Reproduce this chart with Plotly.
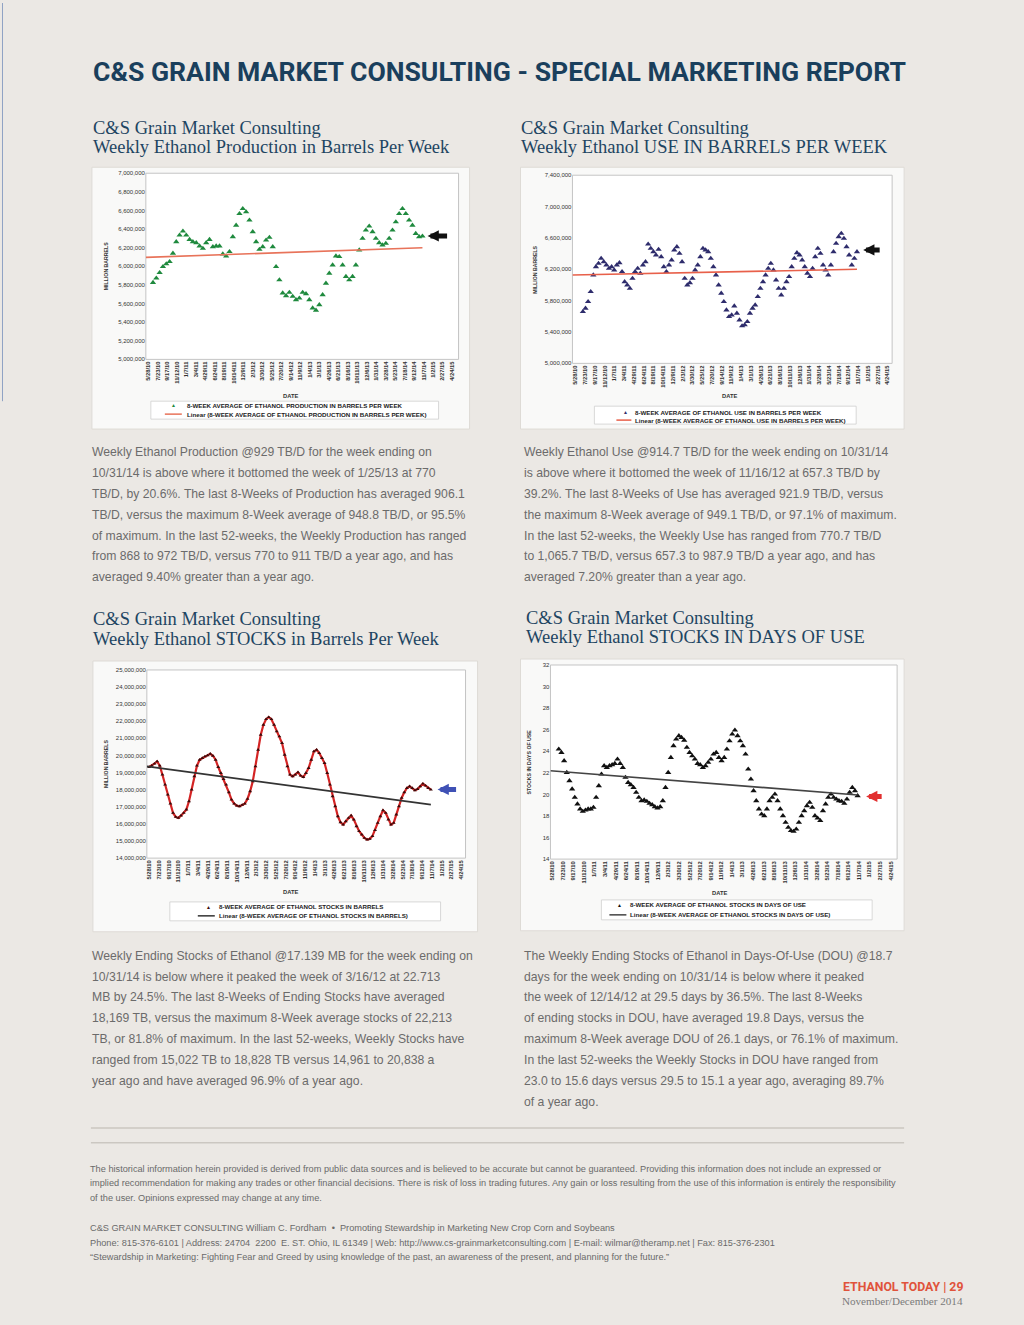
import plotly.graph_objects as go
import pandas as pd

W, H = 1024, 1325

# ---------------- data ----------------
TICK_LABELS = ["5/28/10", "7/23/10", "9/17/10", "11/12/10", "1/7/11", "3/4/11", "4/29/11", "6/24/11",
               "8/19/11", "10/14/11", "12/9/11", "2/3/12", "3/30/12", "5/25/12", "7/20/12", "9/14/12",
               "11/9/12", "1/4/13", "3/1/13", "4/26/13", "6/21/13", "8/16/13", "10/11/13", "12/6/13",
               "1/31/14", "3/28/14", "5/23/14", "7/18/14", "9/12/14", "11/7/14", "1/2/15", "2/27/15",
               "4/24/15"]

# Chart 1: 8-week average ethanol production (barrels per week), thousands
PROD = [5826, 5872, 5932, 5996, 6025, 6050, 6139, 6263, 6334, 6377, 6334, 6288, 6263, 6253, 6217, 6192,
        6253, 6288, 6210, 6217, 6217, 6132, 6110, 6157, 6317, 6441, 6566, 6619, 6584, 6495, 6370, 6263,
        6181, 6210, 6281, 6310, 6210, 5996, 5854, 5712, 5683, 5719, 5676, 5640, 5658, 5719, 5705, 5640,
        5551, 5527, 5587, 5694, 5818, 5925, 6014, 6110, 6103, 6014, 5890, 5854, 5890, 6014, 6174, 6299,
        6388, 6431, 6370, 6299, 6253, 6228, 6246, 6299, 6388, 6477, 6566, 6619, 6566, 6495, 6441, 6352,
        6317, 6324]
PROD_TREND = [6096, 6199]

# Chart 2: 8-week average ethanol use (barrels per week), thousands
USE = [5659, 5702, 5787, 5914, 6126, 6232, 6275, 6339, 6296, 6254, 6211, 6232, 6190, 6254, 6283, 6169,
       6041, 5999, 5956, 6084, 6169, 6211, 6148, 6254, 6296, 6521, 6466, 6423, 6381, 6453, 6360, 6232,
       6169, 6254, 6317, 6445, 6487, 6402, 6296, 6084, 5999, 6028, 6084, 6190, 6254, 6360, 6466, 6445,
       6423, 6339, 6232, 6126, 5999, 5893, 5787, 5680, 5596, 5617, 5731, 5638, 5553, 5477, 5490, 5532,
       5638, 5702, 5744, 5850, 5956, 6041, 6126, 6211, 6275, 6190, 6062, 5956, 5871, 5956, 6041, 6105,
       6232, 6339, 6411, 6381, 6317, 6232, 6148, 6105, 6211, 6360, 6466, 6402, 6254, 6190, 6126, 6254,
       6423, 6530, 6615, 6657, 6594, 6487, 6381, 6254, 6339, 6423]
USE_TREND = [6127, 6200]

# Chart 3: 8-week average ethanol stocks (barrels), thousands
STOCKS = [19324, 19402, 19518, 19654, 19402, 18876, 18293, 17710, 17185, 16641, 16408, 16349, 16485,
          16641, 16835, 17321, 18002, 18779, 19402, 19751, 19848, 19946, 20004, 20101, 19985, 19751,
          19324, 18974, 18624, 18293, 17846, 17418, 17185, 17068, 17030, 17107, 17185, 17457, 17904,
          18488, 19362, 20334, 21209, 21792, 22123, 22240, 22123, 21792, 21404, 21112, 20723, 20043,
          19362, 18876, 18779, 18876, 19013, 18818, 18740, 18974, 19265, 19751, 20237, 20334, 20140,
          19848, 19557, 18974, 18293, 17613, 17030, 16446, 16096, 15960, 16155, 16349, 16485, 16252,
          15863, 15571, 15377, 15182, 15085, 15124, 15280, 15630, 16057, 16446, 16796, 16641, 16252,
          15960, 16057, 16543, 17030, 17515, 17846, 18099, 18196, 18099, 17963, 18040, 18196, 18351,
          18235, 18099, 18002]
STOCKS_TREND = [19362, 17127]

# Chart 4: 8-week average ethanol stocks in days of use
DOU = [24.19, 23.88, 23.11, 22.03, 21.26, 20.49, 19.72, 19.10, 18.64, 18.42, 18.54, 18.64, 18.64, 18.79,
       19.72, 20.80, 21.88, 22.65, 22.49, 22.65, 22.74, 22.86, 23.27, 22.86, 22.49, 21.57, 21.10, 20.89,
       20.64, 20.18, 19.72, 19.41, 19.47, 19.35, 19.16, 19.04, 18.85, 18.73, 18.85, 19.41, 20.64, 22.03,
       23.42, 24.50, 25.12, 25.43, 25.27, 25.02, 24.35, 23.88, 23.57, 23.27, 22.86, 22.74, 22.49, 22.65,
       22.96, 23.27, 23.73, 23.88, 23.42, 23.11, 23.42, 24.19, 24.96, 25.58, 25.95, 25.43, 24.96, 24.50,
       23.73, 22.34, 21.41, 20.33, 19.41, 18.64, 18.17, 18.02, 18.64, 19.41, 19.72, 20.02, 19.41, 18.64,
       18.02, 17.40, 16.94, 16.63, 16.57, 16.78, 17.40, 18.02, 18.48, 18.94, 19.25, 18.79, 18.02, 17.80,
       17.56, 18.48, 19.10, 19.72, 20.02, 19.72, 19.56, 19.41, 19.35, 19.16, 19.56, 20.18, 20.64, 20.33,
       19.87]
DOU_TREND = [22.19, 19.95]

# ---------------- helpers ----------------
tickvals = pd.to_datetime(TICK_LABELS, format="%m/%d/%y")


def px_x(x):
    return x / W


def px_y(y):
    return 1 - y / H


def dom_x(x0, x1):
    return [x0 / W, x1 / W]


def dom_y(y0, y1):
    return [1 - y1 / H, 1 - y0 / H]


annotations = []
shapes = []

SANS = "Liberation Sans, Arial, sans-serif"
HEAVY = "Roboto, Liberation Sans, Arial, sans-serif"
SERIF = "Liberation Serif, Times New Roman, serif"


def txt(x, y, s, size, color, family=SANS, anchor="left", angle=0):
    annotations.append(dict(x=px_x(x), y=px_y(y), xref="paper", yref="paper", text=s, showarrow=False,
                            xanchor=anchor, yanchor="middle", textangle=angle,
                            font=dict(size=size, color=color, family=family)))


def rect(x0, y0, x1, y1, fill, line="rgba(0,0,0,0)", lw=1, layer="below"):
    shapes.append(dict(type="rect", xref="paper", yref="paper", x0=px_x(x0), x1=px_x(x1),
                       y0=px_y(y1), y1=px_y(y0), fillcolor=fill, line=dict(color=line, width=lw), layer=layer))


def hline(x0, x1, y, color, lw):
    shapes.append(dict(type="line", xref="paper", yref="paper", x0=px_x(x0), x1=px_x(x1),
                       y0=px_y(y), y1=px_y(y), line=dict(color=color, width=lw)))


def arrow(tip_x, tail_x, y, color):
    annotations.append(dict(x=px_x(tip_x), y=px_y(y), xref="paper", yref="paper", text="", showarrow=True,
                            ax=tail_x - tip_x, ay=0, arrowhead=2, arrowsize=0.45, arrowwidth=5,
                            arrowcolor=color))


fig = go.Figure()

# ---------------- charts ----------------
charts = [
    dict(vals=[v * 1000 for v in PROD], trend=[v * 1000 for v in PROD_TREND],
         start="2010-06-25", end="2014-10-31", xr=["2010-05-14", "2015-06-01"],
         box=(91, 165, 469, 428), plot=(145, 171, 458, 358), yr=[5000000, 7000000], dtick=200000,
         mcolor="#1f8a3e", msym="triangle-up", msize=5.5, mode="markers", lcolor=None,
         tcolor="#e8735a", ytitle="MILLION BARRELS", ytx=105,
         leg=(150, 400, 438, 418), leg_marker_x=173, leg_text_x=184, leg_line=(164, 181), leg_y=(404, 413),
         leg1="8-WEEK AVERAGE OF ETHANOL PRODUCTION IN BARRELS PER WEEK",
         leg2="Linear (8-WEEK AVERAGE OF ETHANOL PRODUCTION IN BARRELS PER WEEK)",
         date=(290, 395), arr=(427, 448, 234, "#111111")),
    dict(vals=[v * 1000 for v in USE], trend=[v * 1000 for v in USE_TREND],
         start="2010-07-09", end="2014-10-31", xr=["2010-05-10", "2015-05-21"],
         box=(520, 165, 904, 428), plot=(572, 173, 892, 362), yr=[5000000, 7400000], dtick=400000,
         mcolor="#2e2c6c", msym="triangle-up", msize=5.5, mode="markers", lcolor=None,
         tcolor="#e8604a", ytitle="MILLION BARRELS", ytx=535,
         leg=(594, 405, 856, 423), leg_marker_x=625, leg_text_x=633, leg_line=(616, 631), leg_y=(411, 419),
         leg1="8-WEEK AVERAGE OF ETHANOL USE IN BARRELS PER WEEK",
         leg2="Linear (8-WEEK AVERAGE OF ETHANOL USE IN BARRELS PER WEEK)",
         date=(729, 395), arr=(863, 881, 248, "#111111")),
    dict(vals=[v * 1000 for v in STOCKS], trend=[v * 1000 for v in STOCKS_TREND],
         start="2010-05-28", end="2014-10-31", xr=["2010-05-15", "2015-05-18"],
         box=(92, 661, 477, 933), plot=(146, 670, 465, 859), yr=[14000000, 25000000], dtick=1000000,
         mcolor="#3a0a0a", msym="triangle-up", msize=3.5, mode="lines+markers", lcolor="#d42424",
         tcolor="#333333", ytitle="MILLION BARRELS", ytx=105,
         leg=(169, 903, 440, 922), leg_marker_x=208, leg_text_x=216, leg_line=(197, 214), leg_y=(908, 917),
         leg1="8-WEEK AVERAGE OF ETHANOL STOCKS IN BARRELS",
         leg2="Linear (8-WEEK AVERAGE OF ETHANOL STOCKS IN BARRELS)",
         date=(290, 893), arr=(437, 457, 790, "#3f51b5")),
    dict(vals=DOU, trend=DOU_TREND,
         start="2010-07-02", end="2014-10-31", xr=["2010-05-19", "2015-05-28"],
         box=(520, 659, 904, 932), plot=(550, 665, 897, 860), yr=[14, 32], dtick=2,
         mcolor="#111111", msym="triangle-up", msize=5.5, mode="markers", lcolor=None,
         tcolor="#444444", ytitle="STOCKS IN DAYS OF USE", ytx=529,
         leg=(601, 901, 872, 921), leg_marker_x=619, leg_text_x=628, leg_line=(609, 626), leg_y=(906, 916),
         leg1="8-WEEK AVERAGE OF ETHANOL STOCKS IN DAYS OF USE",
         leg2="Linear (8-WEEK AVERAGE OF ETHANOL STOCKS IN DAYS OF USE)",
         date=(719, 894), arr=(866, 883, 797, "#e23030")),
]

layout_axes = {}
for i, c in enumerate(charts, start=1):
    xa = "x" if i == 1 else f"x{i}"
    ya = "y" if i == 1 else f"y{i}"
    dates = pd.date_range(c["start"], c["end"], periods=len(c["vals"]))
    bx0, by0, bx1, by1 = c["box"]
    rect(bx0, by0, bx1, by1, "#f9f9f8", "#dedbd6", 1)
    px0, py0, px1, py1 = c["plot"]
    rect(px0, py0, px1, py1, "#ffffff", "#c4c4c4", 1)

    fig.add_trace(go.Scatter(
        x=dates, y=c["vals"], mode=c["mode"], xaxis=xa, yaxis=ya, showlegend=False,
        marker=dict(symbol=c["msym"], size=c["msize"], color=c["mcolor"]),
        line=dict(color=c["lcolor"] or c["mcolor"], width=2.2)))
    fig.add_trace(go.Scatter(
        x=[pd.Timestamp(c["xr"][0]), pd.Timestamp(c["end"])], y=c["trend"], mode="lines",
        xaxis=xa, yaxis=ya, showlegend=False, line=dict(color=c["tcolor"], width=1.6)))

    axkey = "xaxis" if i == 1 else f"xaxis{i}"
    aykey = "yaxis" if i == 1 else f"yaxis{i}"
    layout_axes[axkey] = dict(domain=dom_x(px0, px1), anchor=ya, type="date",
                              range=[pd.Timestamp(c["xr"][0]), pd.Timestamp(c["xr"][1])],
                              tickvals=tickvals, ticktext=[f"<b>{t}</b>" for t in TICK_LABELS],
                              tickangle=-90, tickfont=dict(size=5.8, color="#333333", family=SANS),
                              showgrid=False, zeroline=False, showline=False, ticks="")
    layout_axes[aykey] = dict(domain=dom_y(py0, py1), anchor=xa, range=c["yr"], dtick=c["dtick"],
                              tick0=c["yr"][0], tickformat=",d",
                              tickfont=dict(size=6, color="#333333", family=SANS),
                              showgrid=False, zeroline=False, showline=False, ticks="")
    txt(c["ytx"], (py0 + py1) / 2, f"<b>{c['ytitle']}</b>", 5.2, "#333333", angle=-90, anchor="center")
    txt(c["date"][0], c["date"][1], "<b>DATE</b>", 5.8, "#333333", anchor="center")

    lx0, ly0, lx1, ly1 = c["leg"]
    rect(lx0, ly0, lx1, ly1, "#ffffff", "#cfcfcf", 0.8)
    txt(c["leg_marker_x"], c["leg_y"][0], "▲", 5, c["mcolor"], anchor="center")
    txt(c["leg_text_x"], c["leg_y"][0], f"<b>{c['leg1']}</b>", 6.2, "#222222")
    hline(c["leg_line"][0], c["leg_line"][1], c["leg_y"][1], c["tcolor"], 1.5)
    txt(c["leg_text_x"], c["leg_y"][1], f"<b>{c['leg2']}</b>", 6.2, "#222222")
    arrow(*c["arr"])

# ---------------- page text ----------------
TITLE = "C&S GRAIN MARKET CONSULTING - SPECIAL MARKETING REPORT"
txt(90, 69, f"<b>{TITLE}</b>", 26.6, "#1a3f5c", family=HEAVY)

HEAD_COLOR = "#1e4562"
headings = [
    (91, 126, 145, "Weekly Ethanol Production in Barrels Per Week"),
    (520, 126, 145, "Weekly Ethanol USE IN BARRELS PER WEEK"),
    (91, 619, 639, "Weekly Ethanol STOCKS in Barrels Per Week"),
    (525, 618, 637, "Weekly Ethanol STOCKS IN DAYS OF USE"),
]
for hx, hy1, hy2, htext in headings:
    txt(hx - 1, hy1, "C&S Grain Market Consulting", 18.5, HEAD_COLOR, family=SERIF)
    txt(hx - 1, hy2, htext, 18.5, HEAD_COLOR, family=SERIF)

PARA1 = ["Weekly Ethanol Production @929 TB/D for the week ending on",
         "10/31/14 is above where it bottomed the week of 1/25/13 at 770",
         "TB/D, by 20.6%. The last 8-Weeks of Production has averaged 906.1",
         "TB/D, versus the maximum 8-Week average of 948.8 TB/D, or 95.5%",
         "of maximum. In the last 52-weeks, the Weekly Production has ranged",
         "from 868 to 972 TB/D, versus 770 to 911 TB/D a year ago, and has",
         "averaged 9.40% greater than a year ago."]
PARA2 = ["Weekly Ethanol Use @914.7 TB/D for the week ending on 10/31/14",
         "is above where it bottomed the week of 11/16/12 at 657.3 TB/D by",
         "39.2%. The last 8-Weeks of Use has averaged 921.9 TB/D, versus",
         "the maximum 8-Week average of 949.1 TB/D, or 97.1% of maximum.",
         "In the last 52-weeks, the Weekly Use has ranged from 770.7 TB/D",
         "to 1,065.7 TB/D, versus 657.3 to 987.9 TB/D a year ago, and has",
         "averaged 7.20% greater than a year ago."]
PARA3 = ["Weekly Ending Stocks of Ethanol @17.139 MB for the week ending on",
         "10/31/14 is below where it peaked the week of 3/16/12 at 22.713",
         "MB by 24.5%. The last 8-Weeks of Ending Stocks have averaged",
         "18,169 TB, versus the maximum 8-Week average stocks of 22,213",
         "TB, or 81.8% of maximum. In the last 52-weeks, Weekly Stocks have",
         "ranged from 15,022 TB to 18,828 TB versus 14,961 to 20,838 a",
         "year ago and have averaged 96.9% of a year ago."]
PARA4 = ["The Weekly Ending Stocks of Ethanol in Days-Of-Use (DOU) @18.7",
         "days for the week ending on 10/31/14 is below where it peaked",
         "the week of 12/14/12 at 29.5 days by 36.5%. The last 8-Weeks",
         "of ending stocks in DOU, have averaged 19.8 Days, versus the",
         "maximum 8-Week average DOU of 26.1 days, or 76.1% of maximum.",
         "In the last 52-weeks the Weekly Stocks in DOU have ranged from",
         "23.0 to 15.6 days versus 29.5 to 15.1 a year ago, averaging 89.7%",
         "of a year ago."]

BODY = "#6b6b6b"
for px, py, lines in [(89, 451, PARA1), (522, 451, PARA2), (89, 957, PARA3), (522, 957, PARA4)]:
    for k, line in enumerate(lines):
        txt(px, py + 21 * k, line, 12.2, BODY)

hline(90, 904, 1130, "#cbc7c1", 1.5)
hline(90, 904, 1145, "#cbc7c1", 1.5)

FOOT1 = ["The historical information herein provided is derived from public data sources and is believed to be accurate but cannot be guaranteed. Providing this information does not include an expressed or",
         "implied recommendation for making any trades or other financial decisions. There is risk of loss in trading futures. Any gain or loss resulting from the use of this information is entirely the responsibility",
         "of the user. Opinions expressed may change at any time."]
FOOT2 = ["C&S GRAIN MARKET CONSULTING William C. Fordham  •  Promoting Stewardship in Marketing New Crop Corn and Soybeans",
         "Phone: 815-376-6101 | Address: 24704  2200  E. ST. Ohio, IL 61349 | Web: http://www.cs-grainmarketconsulting.com | E-mail: wilmar@theramp.net | Fax: 815-376-2301",
         "“Stewardship in Marketing: Fighting Fear and Greed by using knowledge of the past, an awareness of the present, and planning for the future.”"]
FOOT = "#6a6a6a"
for k, line in enumerate(FOOT1):
    txt(87, 1171 + 14.5 * k, line, 9.2, FOOT)
for k, line in enumerate(FOOT2):
    txt(87, 1231 + 14.5 * k, line, 9.2, FOOT)

txt(965, 1290, "<b>ETHANOL TODAY | 29</b>", 12.3, "#e0533b", family=HEAVY, anchor="right")
txt(965, 1304, "November/December 2014", 11.1, "#7a7a7a", family=SERIF, anchor="right")

# thin binding line on the left edge
shapes.append(dict(type="line", xref="paper", yref="paper", x0=px_x(1.5), x1=px_x(1.5),
                   y0=px_y(400), y1=px_y(0), line=dict(color="#8fa2c4", width=1)))

fig.update_layout(width=W, height=H, margin=dict(l=0, r=0, t=0, b=0),
                  paper_bgcolor="#ebe8e4", plot_bgcolor="rgba(0,0,0,0)",
                  annotations=annotations, shapes=shapes, showlegend=False, **layout_axes)

fig.write_html("out.html", config={"displayModeBar": False},
               post_script="document.body.style.margin='0px';")
